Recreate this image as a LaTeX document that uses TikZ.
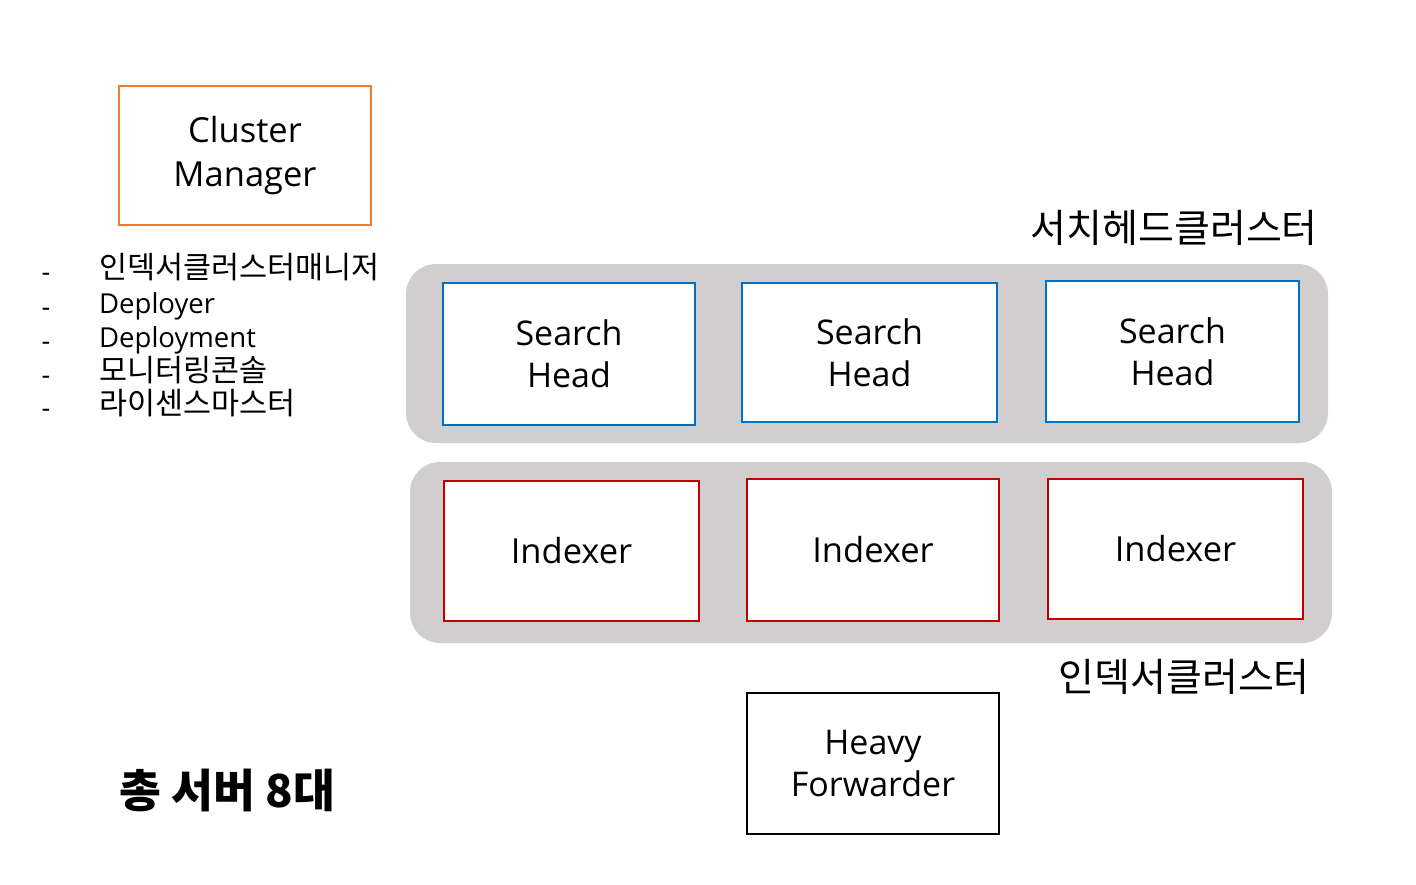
\documentclass[tikz,border=0pt]{standalone}
\usepackage{fontspec}
\setmainfont{Open Sans}
\newfontfamily\kr{Noto Sans CJK KR}
\definecolor{cmorange}{HTML}{ED7D31}
\definecolor{shblue}{HTML}{0070C0}
\definecolor{idxred}{HTML}{C00000}
\definecolor{bandgray}{HTML}{D0CECE}
\tikzset{
  band/.style={fill=bandgray, draw=none, rounded corners=30pt, inner sep=0pt},
  srvbox/.style={draw=#1, line width=2pt, fill=white, inner sep=0pt, align=center},
  boxtxt/.style={font=\fontsize{34}{42}\selectfont},
  itemtxt/.style={anchor=base west, inner sep=0pt, font=\fontsize{27.5}{34}\selectfont},
  kritem/.style={anchor=base west, inner sep=0pt, font=\kr\fontsize{30.5}{34}\selectfont},
  dashtxt/.style={anchor=base, inner sep=0pt, font=\fontsize{27}{34}\selectfont},
  krhead/.style={inner sep=0pt, font=\kr\fontsize{39}{42}\selectfont},
}
\begin{document}
\begin{tikzpicture}[x=1pt,y=-1pt]
\useasboundingbox[fill=white] (0,0) rectangle (1416,884);

% Cluster manager
\node[srvbox=cmorange, boxtxt, font=\fontsize{34.5}{44}\selectfont, minimum width=252pt, minimum height=139pt] (cm) at (245,155.5) {Cluster\\Manager};

% list
\node[dashtxt] (d1) at (46,281) {-};
\node[dashtxt] (d2) at (46,316) {-};
\node[dashtxt] (d3) at (46,350) {-};
\node[dashtxt] (d4) at (46,384) {-};
\node[dashtxt] (d5) at (46,417) {-};
\node[kritem] (l1) at (99,278) {인덱서클러스터매니저};
\node[itemtxt] (l2) at (99,313) {Deployer};
\node[itemtxt] (l3) at (99,347) {Deployment};
\node[kritem] (l4) at (99,381) {모니터링콘솔};
\node[kritem] (l5) at (99,414) {라이센스마스터};

% bands
\node[band, minimum width=922pt, minimum height=179pt] (band1) at (867,353.5) {};
\node[band, minimum width=922pt, minimum height=181pt] (band2) at (871,552.5) {};

% headings
\node[krhead, anchor=east] (shc) at (1318,228) {서치헤드클러스터};
\node[krhead, anchor=east] (idc) at (1310,677) {인덱서클러스터};

% search heads
\node[srvbox=shblue, boxtxt, minimum width=252pt, minimum height=142pt] (sh1) at (569,354) {Search\\Head};
\node[srvbox=shblue, boxtxt, minimum width=255pt, minimum height=139pt] (sh2) at (869.5,352.5) {Search\\Head};
\node[srvbox=shblue, boxtxt, minimum width=253pt, minimum height=141pt] (sh3) at (1172.5,351.5) {Search\\Head};

% indexers
\node[srvbox=idxred, boxtxt, font=\fontsize{34.5}{42}\selectfont, minimum width=255pt, minimum height=140pt] (ix1) at (571.5,551) {Indexer};
\node[srvbox=idxred, boxtxt, font=\fontsize{34.5}{42}\selectfont, minimum width=252pt, minimum height=142pt] (ix2) at (873,550) {Indexer};
\node[srvbox=idxred, boxtxt, font=\fontsize{34.5}{42}\selectfont, minimum width=255pt, minimum height=140pt] (ix3) at (1175.5,549) {Indexer};

% heavy forwarder
\node[srvbox=black, boxtxt, minimum width=252pt, minimum height=141pt] (hf) at (873,763.5) {Heavy\\Forwarder};

% total
\node[inner sep=0pt, anchor=west, font=\kr\bfseries\fontsize{45.5}{48}\selectfont] (tot) at (119,790) {총 서버 8대};
\end{tikzpicture}
\end{document}
